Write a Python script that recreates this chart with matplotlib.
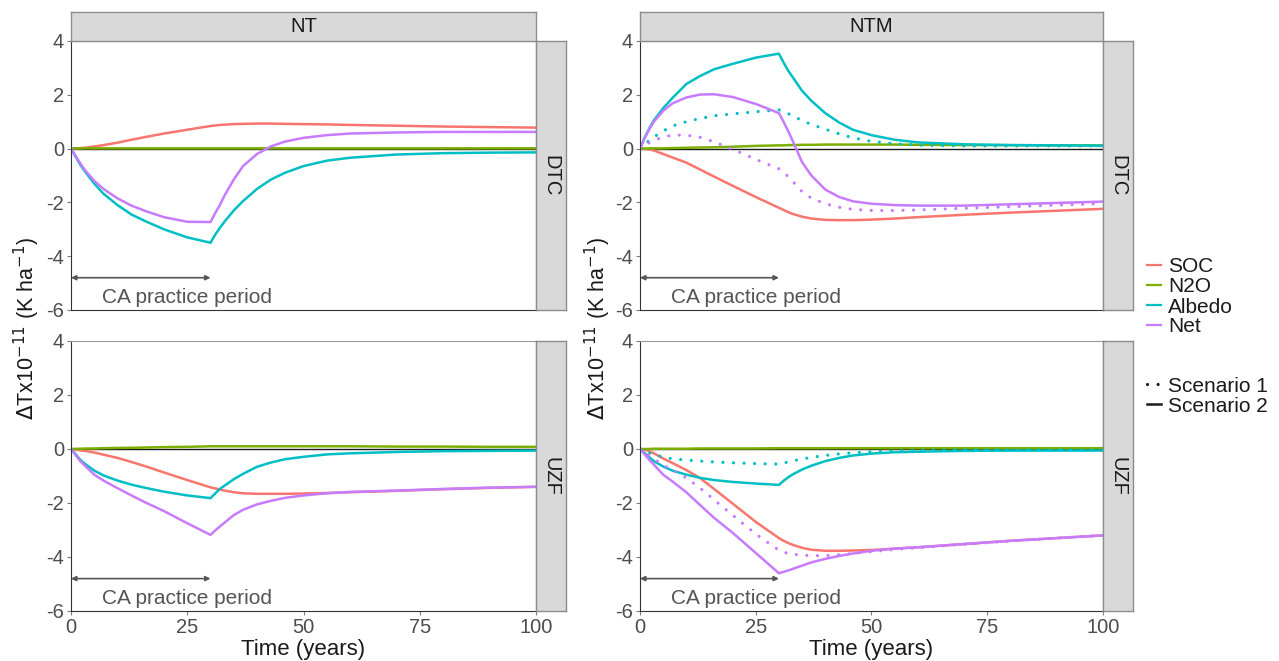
import numpy as np
import matplotlib
matplotlib.use("Agg")
import matplotlib.pyplot as plt
from matplotlib.lines import Line2D

plt.rcParams['font.family'] = ['Liberation Sans', 'DejaVu Sans']
plt.rcParams['axes.unicode_minus'] = False

# Time axis (years)
years = [0, 1, 2, 3, 5, 7, 10, 13, 16, 20, 25, 30, 31, 32, 33, 35, 37, 40, 43, 46, 50, 55, 60, 70, 80, 90, 100]

# NT / DTC
nt_dtc_soc = [0, 0.005, 0.02, 0.03, 0.08, 0.13, 0.22, 0.33, 0.43, 0.56, 0.70, 0.84, 0.86, 0.88, 0.89, 0.91, 0.92, 0.93, 0.93, 0.92, 0.91, 0.90, 0.88, 0.85, 0.82, 0.80, 0.78]
nt_dtc_n2o = [0, 0.01, 0.01, 0.01, 0.01, 0.01, 0.01, 0.01, 0.01, 0.01, 0.01, 0.01, 0.01, 0.01, 0.01, 0.01, 0.01, 0.01, 0.01, 0.01, 0.01, 0.01, 0.01, 0.01, 0.01, 0.01, 0.01]
nt_dtc_albedo = [0, -0.3, -0.6, -0.85, -1.3, -1.68, -2.1, -2.45, -2.7, -3.0, -3.3, -3.5, -3.2, -2.95, -2.72, -2.3, -1.95, -1.5, -1.15, -0.9, -0.65, -0.45, -0.34, -0.22, -0.17, -0.15, -0.14]
nt_dtc_net = [0, -0.28, -0.55, -0.8, -1.2, -1.5, -1.85, -2.12, -2.32, -2.55, -2.72, -2.73, -2.4, -2.1, -1.75, -1.15, -0.65, -0.2, 0.08, 0.26, 0.4, 0.5, 0.56, 0.6, 0.62, 0.62, 0.62]

# NTM / DTC
ntm_dtc_soc = [0, -0.01, -0.03, -0.07, -0.2, -0.33, -0.52, -0.78, -1.04, -1.38, -1.8, -2.2, -2.28, -2.36, -2.43, -2.53, -2.6, -2.65, -2.66, -2.66, -2.64, -2.6, -2.55, -2.46, -2.38, -2.31, -2.24]
ntm_dtc_n2o = [0, 0, 0.01, 0.01, 0.01, 0.02, 0.03, 0.04, 0.05, 0.07, 0.1, 0.12, 0.12, 0.13, 0.13, 0.14, 0.14, 0.15, 0.15, 0.15, 0.15, 0.15, 0.14, 0.13, 0.13, 0.12, 0.12]
ntm_dtc_albedo = [0, 0.4, 0.75, 1.05, 1.5, 1.88, 2.4, 2.7, 2.95, 3.15, 3.38, 3.53, 3.2, 2.9, 2.65, 2.15, 1.78, 1.32, 0.97, 0.7, 0.5, 0.33, 0.23, 0.16, 0.13, 0.12, 0.11]
ntm_dtc_net = [0, 0.4, 0.72, 1.0, 1.4, 1.68, 1.9, 2.01, 2.02, 1.92, 1.66, 1.32, 1.0, 0.65, 0.28, -0.5, -1.0, -1.52, -1.8, -1.96, -2.05, -2.1, -2.12, -2.12, -2.07, -2.02, -1.97]
ntm_dtc_albedo_s1 = [0, 0.16, 0.3, 0.43, 0.65, 0.84, 1.0, 1.12, 1.22, 1.29, 1.37, 1.44, 1.39, 1.3, 1.22, 1.04, 0.9, 0.72, 0.55, 0.4, 0.27, 0.18, 0.13, 0.1, 0.1, 0.1, 0.1]
ntm_dtc_net_s1 = [0, 0.12, 0.22, 0.3, 0.43, 0.5, 0.5, 0.42, 0.25, -0.02, -0.4, -0.75, -0.88, -1.04, -1.22, -1.6, -1.84, -2.05, -2.18, -2.26, -2.3, -2.3, -2.28, -2.22, -2.16, -2.1, -2.04]

# NT / UZF
nt_uzf_soc = [0, -0.02, -0.05, -0.07, -0.13, -0.21, -0.33, -0.48, -0.64, -0.87, -1.15, -1.42, -1.46, -1.5, -1.54, -1.6, -1.64, -1.66, -1.66, -1.66, -1.65, -1.63, -1.6, -1.55, -1.49, -1.44, -1.4]
nt_uzf_n2o = [0, 0.005, 0.01, 0.015, 0.02, 0.03, 0.04, 0.045, 0.055, 0.07, 0.08, 0.1, 0.1, 0.1, 0.1, 0.1, 0.1, 0.1, 0.1, 0.1, 0.1, 0.1, 0.1, 0.09, 0.09, 0.08, 0.08]
nt_uzf_albedo = [0, -0.2, -0.4, -0.55, -0.8, -0.98, -1.17, -1.32, -1.44, -1.58, -1.72, -1.82, -1.65, -1.48, -1.36, -1.12, -0.92, -0.66, -0.5, -0.38, -0.29, -0.2, -0.16, -0.11, -0.08, -0.07, -0.06]
nt_uzf_net = [0, -0.22, -0.45, -0.62, -0.95, -1.17, -1.45, -1.72, -1.98, -2.3, -2.75, -3.18, -3.02, -2.87, -2.73, -2.45, -2.25, -2.05, -1.92, -1.81, -1.72, -1.64, -1.59, -1.54, -1.48, -1.43, -1.4]

# NTM / UZF
ntm_uzf_soc = [0, -0.02, -0.08, -0.16, -0.35, -0.52, -0.78, -1.08, -1.48, -2.02, -2.7, -3.3, -3.4, -3.48, -3.55, -3.66, -3.73, -3.77, -3.77, -3.76, -3.74, -3.69, -3.64, -3.52, -3.4, -3.3, -3.2]
ntm_uzf_n2o = [0, 0, 0, 0.01, 0.01, 0.01, 0.01, 0.02, 0.02, 0.02, 0.02, 0.03, 0.03, 0.03, 0.03, 0.03, 0.03, 0.03, 0.03, 0.03, 0.03, 0.03, 0.03, 0.03, 0.03, 0.03, 0.03]
ntm_uzf_albedo = [0, -0.15, -0.3, -0.45, -0.65, -0.8, -0.95, -1.07, -1.15, -1.22, -1.28, -1.33, -1.18, -1.05, -0.94, -0.76, -0.62, -0.45, -0.33, -0.24, -0.17, -0.12, -0.1, -0.07, -0.06, -0.06, -0.06]
ntm_uzf_net = [0, -0.2, -0.4, -0.58, -0.95, -1.2, -1.6, -2.08, -2.55, -3.1, -3.85, -4.6, -4.55, -4.5, -4.44, -4.32, -4.2, -4.07, -3.96, -3.87, -3.77, -3.69, -3.64, -3.52, -3.4, -3.3, -3.2]
ntm_uzf_albedo_s1 = [0, -0.08, -0.15, -0.2, -0.3, -0.36, -0.41, -0.45, -0.48, -0.51, -0.54, -0.56, -0.52, -0.48, -0.44, -0.37, -0.31, -0.24, -0.18, -0.14, -0.1, -0.07, -0.05, -0.03, -0.03, -0.03, -0.03]
ntm_uzf_net_s1 = [0, -0.12, -0.25, -0.37, -0.6, -0.78, -1.07, -1.45, -1.88, -2.45, -3.15, -3.75, -3.82, -3.87, -3.9, -3.93, -3.95, -3.95, -3.92, -3.87, -3.8, -3.72, -3.66, -3.53, -3.41, -3.3, -3.2]

components = ["SOC", "N2O", "Albedo", "Net"]
colors = ["#F8766D", "#7CAE00", "#00BFC4", "#C77CFF"]
scenarios = ["Scenario 1", "Scenario 2"]
practices = ["NT", "NTM"]
sites = ["DTC", "UZF"]
practice_end = 30

panels = {
    ("NT", "DTC"): ([nt_dtc_soc, nt_dtc_n2o, nt_dtc_albedo, nt_dtc_net], {}),
    ("NTM", "DTC"): ([ntm_dtc_soc, ntm_dtc_n2o, ntm_dtc_albedo, ntm_dtc_net],
                     {"Albedo": ntm_dtc_albedo_s1, "Net": ntm_dtc_net_s1}),
    ("NT", "UZF"): ([nt_uzf_soc, nt_uzf_n2o, nt_uzf_albedo, nt_uzf_net], {}),
    ("NTM", "UZF"): ([ntm_uzf_soc, ntm_uzf_n2o, ntm_uzf_albedo, ntm_uzf_net],
                     {"Albedo": ntm_uzf_albedo_s1, "Net": ntm_uzf_net_s1}),
}

W, H = 1279, 661
fig = plt.figure(figsize=(W / 100, H / 100), dpi=100)

col_x = {"NT": (71, 536), "NTM": (640, 1103)}
row_y = {"DTC": (41, 310), "UZF": (341, 611)}
strip_w, strip_h = 30, 29
tick_col = "#4D4D4D"
strip_fill = "#D9D9D9"
strip_edge = "#8C8C8C"
dots = (0, (0.01, 3.3))


def box(x0, y0, x1, y1):
    return [x0 / W, 1 - y1 / H, (x1 - x0) / W, (y1 - y0) / H]


def strip(x0, y0, x1, y1, text, rot):
    sa = fig.add_axes(box(x0, y0, x1, y1))
    sa.set_facecolor(strip_fill)
    sa.set_xticks([])
    sa.set_yticks([])
    for s in sa.spines.values():
        s.set_color(strip_edge)
        s.set_linewidth(1.0)
    sa.text(0.5, 0.5, text, transform=sa.transAxes, ha="center", va="center",
            fontsize=14.5, rotation=rot, color="#1A1A1A")


for p in practices:
    x0, x1 = col_x[p]
    for s in sites:
        y0, y1 = row_y[s]
        ax = fig.add_axes(box(x0, y0, x1, y1))
        solid, dotted = panels[(p, s)]
        for name, col, vals in zip(components, colors, solid):
            if name in dotted:
                ax.plot(years, dotted[name], color=col, lw=2.3,
                        linestyle=dots, dash_capstyle="round")
            ax.plot(years, vals, color=col, lw=1.8)
        ax.axhline(0, color="#1A1A1A", lw=1.0, zorder=1.5)

        # practice period marker
        ax.annotate("", xy=(0, -4.8), xytext=(practice_end, -4.8),
                    arrowprops=dict(arrowstyle="<|-|>", color="#555555", lw=1.2,
                                    mutation_scale=7, shrinkA=0, shrinkB=0))
        ax.text(6.6, -5.55, "CA practice period", fontsize=15, color="#555555",
                ha="left", va="center")

        ax.set_xlim(0, 100)
        ax.set_ylim(-6, 4)
        ax.set_yticks([4, 2, 0, -2, -4, -6])
        ax.set_xticks([0, 25, 50, 75, 100])
        ax.tick_params(axis="both", colors="#7F7F7F", labelcolor=tick_col,
                       labelsize=14.5, length=3, pad=2)
        if s == "DTC":
            ax.tick_params(axis="x", length=0, labelbottom=False)
        for side in ["top", "right"]:
            ax.spines[side].set_color("#9A9A9A")
        for side in ["left", "bottom"]:
            ax.spines[side].set_color("#333333")
        ax.spines["right"].set_color("#555555")

        strip(x1, y0, x1 + strip_w, y1, s, -90)
        if s == "DTC":
            strip(x0, y0 - strip_h, x1, y0, p, 0)

    fig.text((x0 + x1) / 2 / W, 1 - 649 / H, "Time (years)", ha="center",
             va="center", fontsize=16, color="#1A1A1A")

ylab = r"$\Delta$Tx10$^{-11}$ (K ha$^{-1}$)"
for xp in (27, 598):
    fig.text(xp / W, 1 - 328 / H, ylab, rotation=90, ha="center", va="center",
             fontsize=15.5, color="#1A1A1A")

# legends, placed by hand beside the right-hand strips
key_x0, key_x1, text_x = 1147, 1161, 1168
for i, (name, col) in enumerate(zip(components, colors)):
    y = 1 - (265 + 20 * i) / H
    fig.add_artist(Line2D([key_x0 / W, key_x1 / W], [y, y], color=col, lw=1.6,
                          transform=fig.transFigure))
    fig.text(text_x / W, y, name, fontsize=15, color="#1A1A1A", ha="left",
             va="center_baseline")

scen_styles = [dict(lw=2.3, linestyle=dots, dash_capstyle="round"), dict(lw=1.8)]
for i, (name, style) in enumerate(zip(scenarios, scen_styles)):
    y = 1 - (384 + 20 * i) / H
    fig.add_artist(Line2D([key_x0 / W, key_x1 / W], [y, y], color="#1A1A1A",
                          transform=fig.transFigure, **style))
    fig.text(text_x / W, y, name, fontsize=15, color="#1A1A1A", ha="left",
             va="center_baseline")

fig.savefig("out.png", dpi=100)
